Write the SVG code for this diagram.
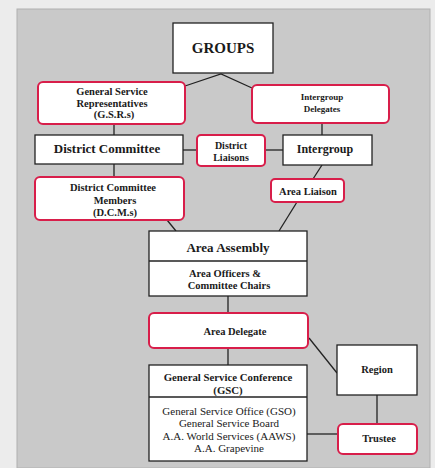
<svg xmlns="http://www.w3.org/2000/svg" width="435" height="468" viewBox="0 0 435 468">
<style>
text{font-family:"Liberation Serif","Times New Roman",serif;fill:#1a1a1a;text-anchor:middle}
.b{font-weight:bold}
.s{font-size:10.5px}
.box{fill:#fff;stroke:#222;stroke-width:1.3}
.red{fill:#fff;stroke:#d81e4a;stroke-width:2}
.ln{stroke:#222;stroke-width:1.3;fill:none}
</style>
<rect x="0" y="0" width="435" height="468" fill="#ececec"/>
<rect x="17" y="9" width="413" height="459" fill="#c9c9c9" stroke="#b0b0b0" stroke-width="1"/>
<g id="connectors">
<path class="ln" d="M185,86 L221,74 L252,88"/>
<path class="ln" d="M114,124 V135"/>
<path class="ln" d="M322,123 V135"/>
<path class="ln" d="M183,150 H197"/>
<path class="ln" d="M265,150 H283"/>
<path class="ln" d="M114,164 V177"/>
<path class="ln" d="M322,165 L313,179"/>
<path class="ln" d="M297,202 L279,231"/>
<path class="ln" d="M167,220 L176,231"/>
<path class="ln" d="M228,296 V313"/>
<path class="ln" d="M228,348 V365"/>
<path class="ln" d="M309,338 L337,373"/>
<path class="ln" d="M377,395 V424"/>
<path class="ln" d="M307,434 H338"/>
</g>
<g id="groups">
<rect class="box" x="173" y="23" width="100" height="50"/>
<text class="b" x="223" y="53" font-size="15">GROUPS</text>
</g>
<g id="gsr">
<rect class="red" x="38" y="82" width="147" height="42" rx="5"/>
<text class="b s" x="112" y="95">General Service</text>
<text class="b s" x="112" y="107">Representatives</text>
<text class="b s" x="114" y="118">(G.S.R.s)</text>
</g>
<g id="intergroup-delegates">
<rect class="red" x="252" y="85" width="137" height="38" rx="5"/>
<text class="b" x="322" y="100" font-size="9">Intergroup</text>
<text class="b" x="322" y="112" font-size="9">Delegates</text>
</g>
<g id="district-committee">
<rect class="box" x="35" y="135" width="148" height="29"/>
<text class="b" x="107" y="153" font-size="13">District Committee</text>
</g>
<g id="district-liaisons">
<rect class="red" x="197" y="135" width="68" height="31" rx="4"/>
<text class="b" x="231" y="148.5" font-size="10">District</text>
<text class="b" x="231" y="161" font-size="10">Liaisons</text>
</g>
<g id="intergroup">
<rect class="box" x="283" y="135" width="89" height="30"/>
<text class="b" x="325" y="153" font-size="12">Intergroup</text>
</g>
<g id="dcm">
<rect class="red" x="35" y="177" width="149" height="43" rx="5"/>
<text class="b s" x="113" y="191">District Committee</text>
<text class="b s" x="115" y="204">Members</text>
<text class="b s" x="115" y="216">(D.C.M.s)</text>
</g>
<g id="area-liaison">
<rect class="red" x="271" y="179" width="73" height="23" rx="4"/>
<text class="b" x="308" y="195" font-size="10.5">Area Liaison</text>
</g>
<g id="area-assembly">
<rect class="box" x="149" y="231" width="158" height="65"/>
<line class="ln" x1="149" y1="261" x2="307" y2="261"/>
<text class="b" x="228" y="252" font-size="13">Area Assembly</text>
<text class="b s" x="225" y="277">Area Officers &amp;</text>
<text class="b s" x="229" y="289">Committee Chairs</text>
</g>
<g id="area-delegate">
<rect class="red" x="149" y="313" width="159" height="35" rx="5"/>
<text class="b s" x="235" y="335">Area Delegate</text>
</g>
<g id="gsc">
<rect class="box" x="149" y="365" width="158" height="96"/>
<line class="ln" x1="149" y1="397" x2="307" y2="397"/>
<text class="b" x="228" y="381" font-size="10.8">General Service Conference</text>
<text class="b" x="228" y="394" font-size="10.8">(GSC)</text>
<text x="229" y="415" font-size="11">General Service Office (GSO)</text>
<text x="229" y="427" font-size="11">General Service Board</text>
<text x="229" y="440" font-size="11">A.A. World Services (AAWS)</text>
<text x="229" y="452" font-size="11">A.A. Grapevine</text>
</g>
<g id="region">
<rect class="box" x="337" y="345" width="80" height="50"/>
<text class="b s" x="377" y="373">Region</text>
</g>
<g id="trustee">
<rect class="red" x="338" y="424" width="79" height="30" rx="5"/>
<text class="b s" x="379" y="442">Trustee</text>
</g>
</svg>
